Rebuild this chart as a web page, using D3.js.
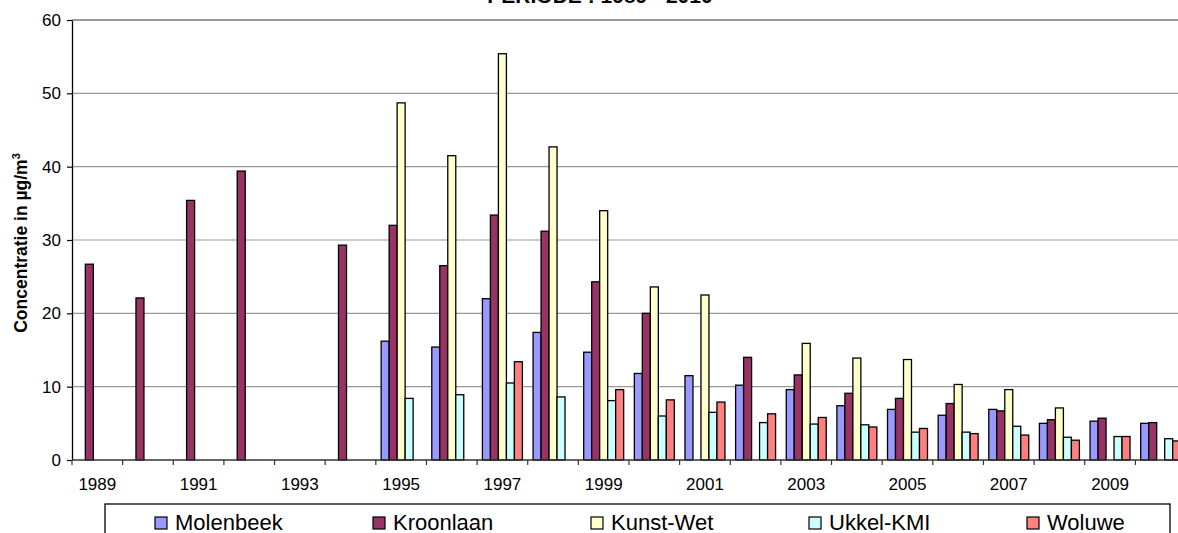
<!DOCTYPE html>
<html>
<head>
<meta charset="utf-8">
<script src="https://cdn.jsdelivr.net/npm/d3@7"></script>
<style>
  html, body { margin: 0; padding: 0; background: #fff; }
  svg { display: block; font-family: Arial, "Liberation Sans", sans-serif; }
</style>
</head>
<body>
<svg id="chart" width="1178" height="533"></svg>
<script>
const years = [1989,1990,1991,1992,1993,1994,1995,1996,1997,1998,1999,2000,2001,2002,2003,2004,2005,2006,2007,2008,2009,2010];
const seriesNames = ["Molenbeek","Kroonlaan","Kunst-Wet","Ukkel-KMI","Woluwe"];
const seriesColors = ["#9999FF","#993366","#FFFFCC","#CCFFFF","#FF8080"];
const molenbeek = [null,null,null,null,null,null,16.2,15.4,22.0,17.4,14.7,11.8,11.5,10.2,9.6,7.4,6.9,6.1,6.9,5.0,5.3,5.0];
const kroonlaan = [26.7,22.1,35.4,39.4,null,29.3,32.0,26.5,33.4,31.2,24.3,20.0,null,14.0,11.6,9.1,8.4,7.7,6.7,5.5,5.7,5.1];
const kunstWet  = [null,null,null,null,null,null,48.7,41.5,55.4,42.7,34.0,23.6,22.5,null,15.9,13.9,13.7,10.3,9.6,7.1,null,null];
const ukkelKmi  = [null,null,null,null,null,null,8.4,8.9,10.5,8.6,8.1,6.0,6.5,5.1,4.9,4.8,3.8,3.8,4.6,3.1,3.2,2.9];
const woluwe    = [null,null,null,null,null,null,null,null,13.4,null,9.6,8.2,7.9,6.3,5.8,4.5,4.3,3.6,3.4,2.7,3.2,2.6];
const yTicks = [0,10,20,30,40,50,60];
const xTickLabels = [1989,1991,1993,1995,1997,1999,2001,2003,2005,2007,2009];
const titleText = "PERIODE : 1989 - 2010";

const allSeries = [molenbeek, kroonlaan, kunstWet, ukkelKmi, woluwe];

const svg = d3.select("#chart");
const margin = {left: 72, top: 20, bottom: 73};
const plotRight = 1186;
const H = 533;
const plotBottom = H - margin.bottom;

const x = d3.scaleBand().domain(years).range([margin.left, plotRight]).padding(0);
const xInner = d3.scaleBand().domain(seriesNames).range([0, x.bandwidth()]).paddingInner(0).paddingOuter(0.667);
const y = d3.scaleLinear().domain([0, 60]).range([plotBottom, margin.top]);

// title (cut at top, as in the reference)
svg.append("text")
  .attr("x", 600).attr("y", 3)
  .attr("text-anchor", "middle")
  .attr("font-weight", "bold")
  .attr("font-size", 21)
  .text(titleText);

// gridlines
svg.append("g").selectAll("line")
  .data(yTicks.filter(d => d > 0))
  .join("line")
  .attr("x1", margin.left).attr("x2", plotRight)
  .attr("y1", d => y(d)).attr("y2", d => y(d))
  .attr("stroke", "#999")
  .attr("stroke-width", d => d === 60 ? 2 : 1.2);

// bars
const groups = svg.append("g").selectAll("g")
  .data(seriesNames)
  .join("g")
  .attr("fill", (d, i) => seriesColors[i]);

groups.selectAll("rect")
  .data((name, i) => years.map((yr, j) => ({yr, name, v: allSeries[i][j]})).filter(d => d.v != null))
  .join("rect")
  .attr("x", d => x(d.yr) + xInner(d.name))
  .attr("width", xInner.bandwidth())
  .attr("y", d => y(d.v))
  .attr("height", d => y(0) - y(d.v))
  .attr("stroke", "#000")
  .attr("stroke-width", 1.3);

// y axis
const yAxis = svg.append("g")
  .attr("transform", `translate(${margin.left},0)`)
  .call(d3.axisLeft(y).tickValues(yTicks).tickSize(5).tickPadding(6).tickSizeOuter(0));
yAxis.select(".domain").attr("stroke", "#000").attr("stroke-width", 1.3);
yAxis.selectAll(".tick line").attr("stroke", "#000").attr("stroke-width", 1.2);
yAxis.selectAll(".tick text").attr("font-size", 17).attr("fill", "#000")
  .attr("font-family", "Arial, 'Liberation Sans', sans-serif");

// x axis
const xAxisG = svg.append("g").attr("transform", `translate(0,${plotBottom})`);
xAxisG.append("line")
  .attr("x1", margin.left).attr("x2", plotRight)
  .attr("y1", 0).attr("y2", 0)
  .attr("stroke", "#333").attr("stroke-width", 1.5);
const boundaries = years.map(yr => x(yr)).concat([x(years[years.length-1]) + x.bandwidth()]);
xAxisG.selectAll("line.tk")
  .data(boundaries)
  .join("line").attr("class", "tk")
  .attr("x1", d => d).attr("x2", d => d)
  .attr("y1", 0).attr("y2", 5)
  .attr("stroke", "#333").attr("stroke-width", 1.2);
xAxisG.selectAll("text")
  .data(xTickLabels)
  .join("text")
  .attr("x", d => x(d) + x.bandwidth() / 2)
  .attr("y", 30)
  .attr("text-anchor", "middle")
  .attr("font-size", 17)
  .text(d => d);

// y label
const yl = svg.append("text")
  .attr("transform", `translate(27,${(margin.top + plotBottom) / 2 + 3}) rotate(-90)`)
  .attr("text-anchor", "middle")
  .attr("font-weight", "bold")
  .attr("font-size", 17.5);
yl.append("tspan").text("Concentratie in µg/m");
yl.append("tspan").attr("font-size", 11).attr("dy", -7).text("3");

// legend
const legend = svg.append("g");
legend.append("rect")
  .attr("x", 105).attr("y", 504)
  .attr("width", 1065).attr("height", 60)
  .attr("fill", "#fff").attr("stroke", "#000").attr("stroke-width", 1.3);
const legendX = d3.scalePoint().domain(seriesNames).range([155, 1027]);
const li = legend.selectAll("g.item")
  .data(seriesNames)
  .join("g").attr("class", "item")
  .attr("transform", d => `translate(${legendX(d)},517)`);
li.append("rect")
  .attr("width", 12).attr("height", 12)
  .attr("fill", (d, i) => seriesColors[i])
  .attr("stroke", "#000").attr("stroke-width", 1.2);
li.append("text")
  .attr("x", 20).attr("y", 12.5)
  .attr("font-size", 22)
  .text(d => d);
</script>
</body>
</html>
